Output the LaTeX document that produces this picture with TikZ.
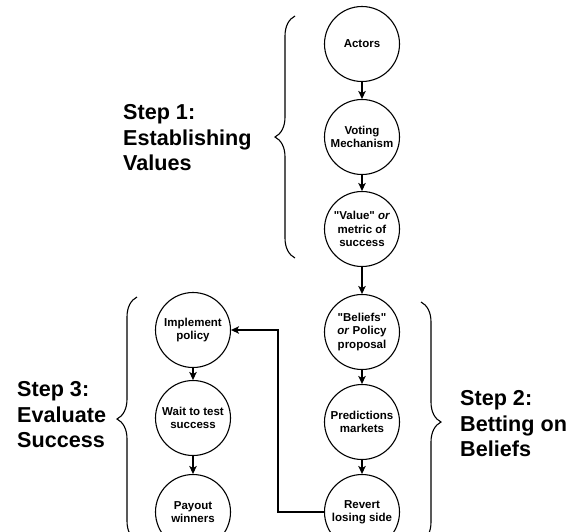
\documentclass[tikz,border=0pt]{standalone}
\usepackage{fontspec}
\setmainfont{Liberation Sans}
\newfontfamily\plainsans{Liberation Sans}
\usetikzlibrary{arrows.meta,decorations.pathreplacing}

\tikzset{
  stage/.style={draw, circle, line width=1.1pt, minimum size=75pt, inner sep=0pt,
    align=center, font=\plainsans\bfseries\fontsize{11.5}{13.3}\selectfont},
  flow/.style={line width=1.1pt, -{Stealth[length=8pt,width=7.5pt,inset=2pt]}},
  stepbrace/.style={line width=1.1pt, decorate, decoration={brace, amplitude=20pt}},
  steptext/.style={inner sep=0pt, align=left, font=\bfseries\fontsize{21.6}{25.5}\selectfont}
}

\begin{document}
\begin{tikzpicture}[x=1pt, y=-1pt]
        \useasboundingbox (0,0) rectangle (580,531);

        \node[stage] (actors) at (362, 44) {Actors};
        \node[stage] (voting) at (362, 137) {Voting\\Mechanism};
        \node[stage] (value) at (362, 229) {"Value" \textit{or}\\metric of\\success};
        \node[stage] (beliefs) at (362, 332) {"Beliefs"\\\textit{or} Policy\\proposal};
        \node[stage] (markets) at (362, 422) {Predictions\\markets};
        \node[stage] (revert) at (362, 512) {Revert\\losing side};
        \node[stage] (implement) at (193, 330) {Implement\\policy};
        \node[stage] (wait) at (193, 418) {Wait to test\\success};
        \node[stage] (payout) at (193, 512) {Payout\\winners};

        \draw[flow] (actors) -- (voting);
        \draw[flow] (voting) -- (value);
        \draw[flow] (value) -- (beliefs);
        \draw[flow] (beliefs) -- (markets);
        \draw[flow] (markets) -- (revert);
        \draw[flow] (implement) -- (wait);
        \draw[flow] (wait) -- (payout);
        \draw[flow] (revert.west) -- ++(-46, 0) |- (implement.east);

        % braces
        \draw[stepbrace] (295, 258) -- (295, 16);
        \draw[stepbrace] (137, 541) -- (137, 297);
        \draw[stepbrace] (421, 302) -- (421, 542);

        \node[steptext, anchor=west] (step1) at (123, 138) {Step 1:\\Establishing\\Values};
        \node[steptext, anchor=west] (step3) at (17, 415) {Step 3:\\Evaluate\\Success};
        \node[steptext, anchor=west] (step2) at (460, 424) {Step 2:\\Betting on\\Beliefs};
      \end{tikzpicture}
\end{document}
